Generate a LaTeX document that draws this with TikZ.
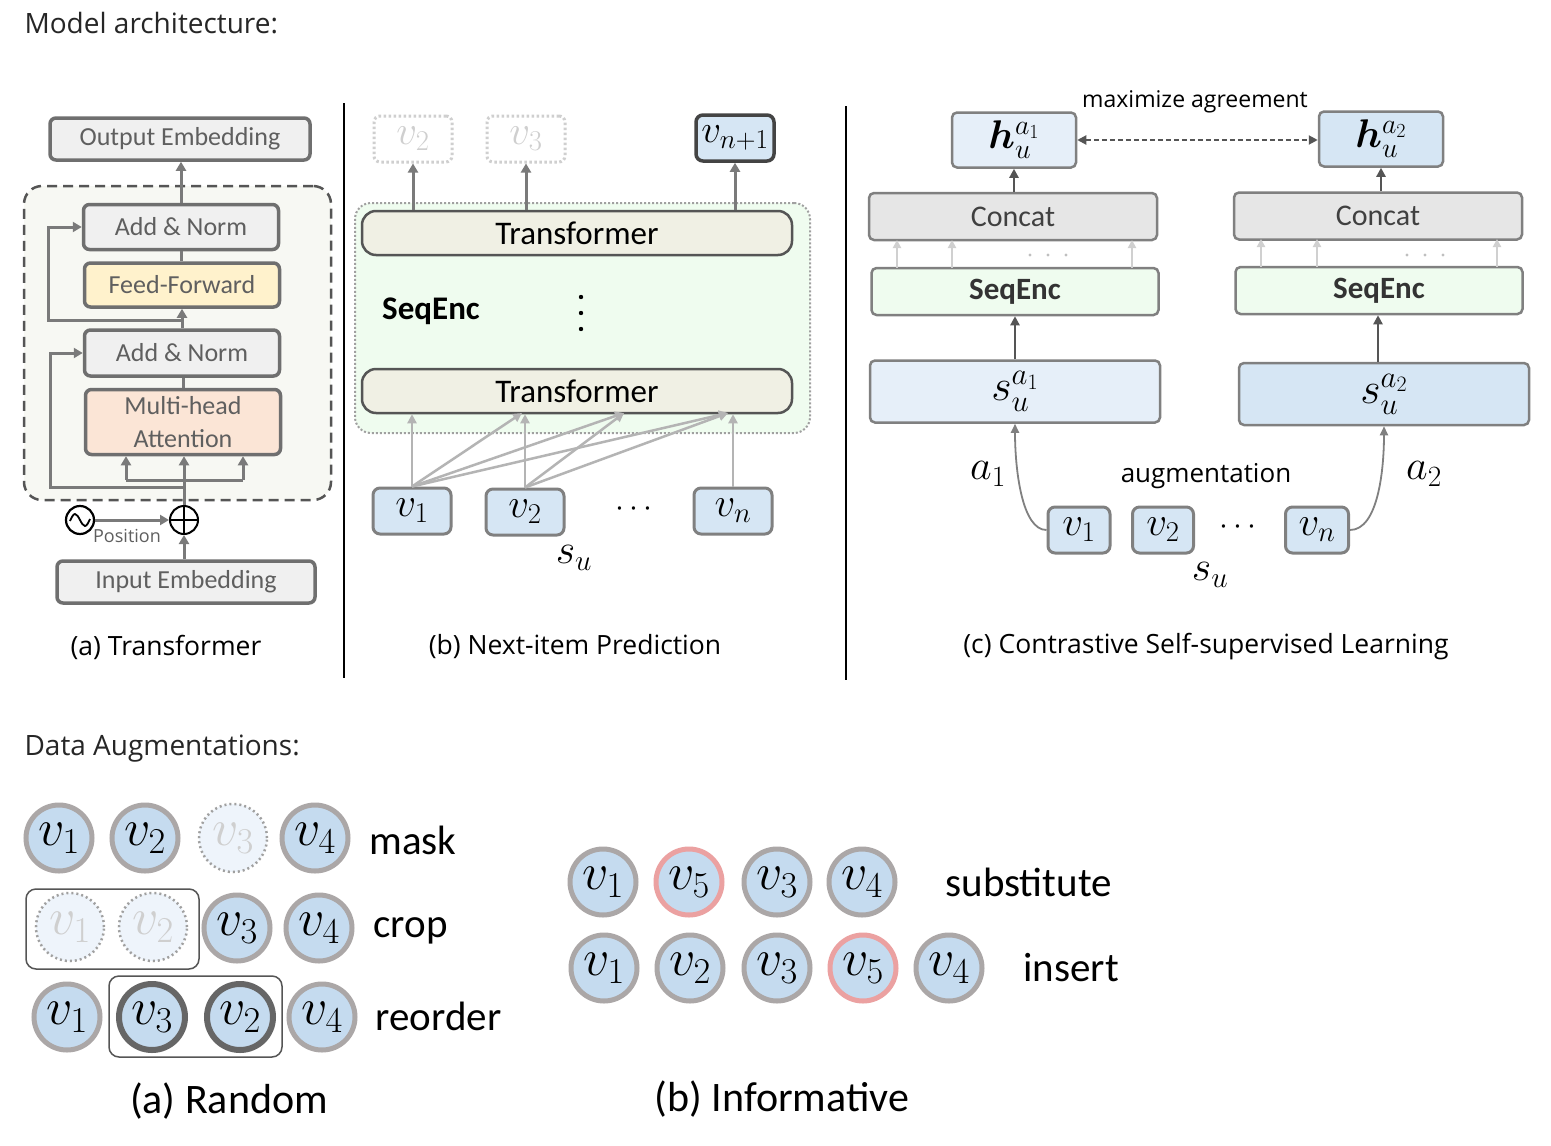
\RequirePackage{fix-cm}
\documentclass[tikz,border=0pt]{standalone}
\usepackage{bm}
\usepackage{fontspec}
\setmainfont{Carlito}
\newfontfamily\osans{Open Sans}
\usetikzlibrary{arrows.meta,calc}
\newcommand{\fsz}[1]{\fontsize{#1}{#1}\selectfont}
\definecolor{bordA}{HTML}{6F6F6F}
\definecolor{fillGray}{HTML}{F0F0F0}
\definecolor{txtA}{HTML}{5F5F5F}
\definecolor{ffFill}{HTML}{FFF2CC}
\definecolor{mhaFill}{HTML}{FBE5D6}
\definecolor{bgA}{HTML}{F7F8F3}
\definecolor{arrA}{HTML}{7A7A7A}
\definecolor{vFill}{HTML}{D6E6F4}
\definecolor{vBord}{HTML}{808080}
\definecolor{greenFill}{HTML}{EFFCEF}
\definecolor{trFill}{HTML}{F0F0E4}
\definecolor{lightArr}{HTML}{B4B4B4}
\definecolor{lighterArr}{HTML}{D0D0D0}
\definecolor{hFill}{HTML}{E6EFF9}
\definecolor{ccFill}{HTML}{E6E6E6}
\definecolor{cFill}{HTML}{C5DBEF}
\definecolor{cBord}{HTML}{ABA7A7}
\definecolor{redBord}{HTML}{EBA1A1}
\definecolor{darkBord}{HTML}{666666}
\definecolor{ghostFill}{HTML}{EEF4FB}
\definecolor{ghostBord}{HTML}{A0A0A0}
\definecolor{ghostTxt}{HTML}{CFCFCF}
\definecolor{darkArr}{HTML}{555555}
\tikzset{
  abox/.style={draw=bordA, line width=3.5pt, fill=fillGray, rounded corners=6pt, inner sep=0pt, text=txtA, font=\fsz{26}},
  bgdash/.style={draw=darkArr, line width=2.5pt, dash pattern=on 10pt off 6pt, fill=bgA, rounded corners=18pt, inner sep=0pt},
  arr/.style={draw=arrA, line width=3pt, -{Triangle[length=9pt,width=10pt]}},
  ln/.style={draw=arrA, line width=3pt},
  larr/.style={draw=lightArr, line width=2.5pt, -{Triangle[length=9pt,width=9pt]}},
  lrarr/.style={draw=lighterArr, line width=2.5pt, -{Triangle[length=8pt,width=8pt]}},
  darr/.style={draw=darkArr, line width=2.5pt, -{Triangle[length=9pt,width=9pt]}},
  seqbg/.style={draw=ghostBord, line width=2pt, dash pattern=on 2pt off 2pt, fill=greenFill, rounded corners=16pt, inner sep=0pt},
  trbox/.style={draw=darkArr, line width=2.5pt, fill=trFill, rounded corners=14pt, inner sep=0pt, font=\fsz{33}, minimum width=430pt, minimum height=44pt},
  vbox/.style={draw=vBord, line width=3pt, fill=vFill, rounded corners=7pt, inner sep=0pt, minimum width=78pt, minimum height=46pt, font=\fsz{41}},
  ghostbox/.style={draw=ghostTxt, line width=3pt, dash pattern=on 2.5pt off 2.5pt, rounded corners=6pt, inner sep=0pt, minimum width=78pt, minimum height=46pt, font=\fsz{41}, text=ghostTxt},
  cbox/.style={draw=vBord, line width=2.5pt, rounded corners=5pt, inner sep=0pt, font=\fsz{30}},
  circ/.style={circle, fill=cFill, draw=cBord, line width=5pt, minimum size=66pt, inner sep=0pt, font=\fsz{52}},
  ghostc/.style={circle, fill=ghostFill, draw=ghostBord, line width=2.5pt, dash pattern=on 2pt off 3pt, minimum size=68pt, inner sep=0pt, font=\fsz{52}, text=ghostTxt},
  darkc/.style={circ, draw=darkBord, line width=6pt},
  redc/.style={circ, draw=redBord},
  augl/.style={anchor=west, font=\fsz{41}},
  mlab/.style={font=\fsz{42}},
  capt/.style={font=\osans\fsz{26.5}},
  bigcapt/.style={font=\fsz{42}},
  head/.style={anchor=west, font=\osans\fsz{28}, text=black!85}
}
\begin{document}
\begin{tikzpicture}[x=1pt,y=-1pt]
\useasboundingbox (0,0) rectangle (1551,1146);
\fill[white] (0,0) rectangle (1551,1146);

% headers
\node[head] (hd1) at (21,23) {Model architecture:};
\node[head] (hd2) at (21,749) {Data Augmentations:};

% ---------- panel (a) ----------
\node[bgdash, minimum width=307pt, minimum height=314pt] (enc) at (177.5,343) {};
\node[abox, minimum width=260pt, minimum height=42pt] (outemb) at (180,139) {Output Embedding};
\node[abox, minimum width=195pt, minimum height=45pt] (an1) at (181,227) {Add \& Norm};
\node[abox, fill=ffFill, minimum width=195pt, minimum height=44pt] (ff) at (182,285) {Feed-Forward};
\node[abox, minimum width=195pt, minimum height=46pt] (an2) at (182,353) {Add \& Norm};
\node[abox, fill=mhaFill, minimum width=195pt, minimum height=65pt, align=center, font=\fontsize{26}{33}\selectfont] (mha) at (183,422) {Multi-head\\Attention};
\node[draw, circle, line width=2pt, minimum size=28pt, inner sep=0pt] (plus) at (184,520) {};
\draw[line width=2pt] (plus.north) -- (plus.south) (plus.west) -- (plus.east);
\node[draw, circle, line width=2.2pt, minimum size=28pt, inner sep=0pt] (pos) at (80,520) {};
\draw[line width=1.8pt] (70,521) sin (75,514) cos (80,520) sin (85,526) cos (90,519);
\node[font=\osans\fsz{18}, text=txtA] (postxt) at (127,536) {Position};
\node[abox, minimum width=258pt, minimum height=42pt] (inemb) at (186,582) {Input Embedding};

\draw[arr] (an1.north) -- (an1.north |- outemb.south);
\draw[ln] (an1.south) -- (an1.south |- ff.north);
\draw[arr] (an2.north) -- (an2.north |- ff.south);
\coordinate (r1) at (183,320);
\draw[arr] (r1) -- (48,320) |- (an1.west);
\coordinate (r2) at (183,487);
\draw[arr] (r2) -- (50,487) |- (an2.west);
\draw[ln] (mha.north) -- (mha.north |- an2.south);
\draw[arr] (plus.north) -- (plus.north |- mha.south);
\coordinate (sl) at (126,480);
\coordinate (sr) at (243,480);
\draw[ln] (sl) -- (sr);
\draw[arr] (sl) -- (sl |- mha.south);
\draw[arr] (sr) -- (sr |- mha.south);
\draw[arr] (pos.east) -- (plus.west);
\draw[arr] (plus.south |- inemb.north) -- (plus.south);
\node[capt] (capa) at (166,647) {(a) Transformer};

% separators
\coordinate (s1a) at (344,103); \coordinate (s1b) at (344,678);
\coordinate (s2a) at (846,106); \coordinate (s2b) at (846,680);
\draw[line width=2pt] (s1a) -- (s1b);
\draw[line width=2pt] (s2a) -- (s2b);

% ---------- panel (b) ----------
\node[seqbg, minimum width=455pt, minimum height=230pt] (seq) at (582.5,318) {};
\node[trbox] (tr1) at (577,233) {Transformer};
\node[trbox] (tr2) at (577,391) {Transformer};
\node[font=\bfseries\fsz{33}] (seqlbl) at (431,311) {SeqEnc};
\foreach \yy in {297,313,329} \fill (581,\yy) circle (2.2pt);
\node[ghostbox] (p2) at (413,139) {$v_2$};
\node[ghostbox] (p3) at (526,139) {$v_3$};
\node[vbox, draw=darkArr!80!black, line width=3.5pt, font=\fsz{39}] (vn1) at (735,138) {$v_{n+1}$};
\node[vbox] (b1) at (412,511) {$v_1$};
\node[vbox] (b2) at (525,512) {$v_2$};
\node[vbox] (bn) at (733,511) {$v_n$};
\node[font=\fsz{32}] (bdots) at (634,509) {$\cdots$};
\node[mlab] (bsu) at (574,558) {$s_u$};
\draw[arr] (p2.south |- tr1.north) -- (p2.south);
\draw[arr] (p3.south |- tr1.north) -- (p3.south);
\draw[arr] (vn1.south |- tr1.north) -- (vn1.south);
\coordinate (q2) at (522,413);
\coordinate (q3) at (624,413);
\coordinate (q4) at (728,413);
\draw[larr] (b1.north) -- (b1.north |- tr2.south);
\draw[larr] (b1.north) -- (q2);
\draw[larr] (b1.north) -- (q3);
\draw[larr] (b1.north) -- (q4);
\draw[larr] (b2.north) -- (b2.north |- tr2.south);
\draw[larr] (b2.north) -- (q3);
\draw[larr] (b2.north) -- (q4);
\draw[larr] (bn.north) -- (bn.north |- tr2.south);
\node[capt] (capb) at (575,647) {(b) Next-item Prediction};

% ---------- panel (c) ----------
\node[font=\osans\fsz{23}] (maxag) at (1195,102) {maximize agreement};
\node[cbox, fill=hFill, minimum width=124pt, minimum height=55pt, font=\fsz{40}] (h1) at (1014,140) {$\bm{h}_u^{a_1}$};
\node[cbox, fill=vFill, minimum width=124pt, minimum height=55pt, font=\fsz{40}] (h2) at (1381,139) {$\bm{h}_u^{a_2}$};
\draw[draw=darkArr, line width=2pt, dash pattern=on 5pt off 3pt, {Triangle[length=9pt,width=9pt]}-{Triangle[length=9pt,width=9pt]}] (h1.east) -- (h1.east -| h2.west);
\node[cbox, fill=ccFill, minimum width=288pt, minimum height=47pt, text=black!75] (cc1) at (1013,216.5) {Concat};
\node[cbox, fill=ccFill, minimum width=288pt, minimum height=47pt, text=black!75] (cc2) at (1378,216) {Concat};
\node[cbox, fill=greenFill, minimum width=287pt, minimum height=47pt, font=\bfseries\fsz{31}, text=black!80] (se1) at (1015,291.5) {SeqEnc};
\node[cbox, fill=greenFill, minimum width=287pt, minimum height=47pt, font=\bfseries\fsz{31}, text=black!80] (se2) at (1379,290.5) {SeqEnc};
\node[cbox, fill=hFill, minimum width=290pt, minimum height=62pt, font=\fsz{44}] (su1) at (1015,391.5) {$s_u^{a_1}$};
\node[cbox, fill=vFill, minimum width=290pt, minimum height=62pt, font=\fsz{44}] (su2) at (1384,394) {$s_u^{a_2}$};
\draw[darr] (cc1.north -| h1.south) -- (h1.south);
\draw[darr] (cc2.north -| h2.south) -- (h2.south);
\draw[darr] (su1.north) -- (su1.north |- se1.south);
\draw[darr] (su2.north -| cc2.north) -- (se2.south -| cc2.north);
\foreach \xx in {897,952,1132} \draw[lrarr] (\xx,268) -- (\xx,240);
\foreach \xx in {1261,1317,1497} \draw[lrarr] (\xx,267) -- (\xx,239);
\foreach \xx in {1030,1048,1066} \fill[black!25] (\xx,255) circle (1.6pt);
\foreach \xx in {1407,1425,1443} \fill[black!25] (\xx,255) circle (1.6pt);
\node[vbox, minimum width=62pt, minimum height=46pt] (cv1) at (1079,530) {$v_1$};
\node[vbox, minimum width=61pt, minimum height=46pt] (cv2) at (1163,530) {$v_2$};
\node[vbox, minimum width=63pt, minimum height=46pt] (cvn) at (1317,530) {$v_n$};
\node[font=\fsz{32}] (cdots) at (1238,527) {$\cdots$};
\node[mlab] (csu) at (1210,575) {$s_u$};
\draw[draw=vBord, line width=1.8pt, -{Triangle[length=9pt,width=8pt]}] (cv1.west) .. controls (1022,530) and (1015,470) .. (su1.south);
\draw[draw=vBord, line width=1.8pt, -{Triangle[length=9pt,width=8pt]}] (cvn.east) .. controls (1378,530) and (1384,470) .. (su2.south);
\node[mlab] (la1) at (988,474) {$a_1$};
\node[mlab] (la2) at (1424,474) {$a_2$};
\node[font=\osans\fsz{26}] (augtxt) at (1206,476) {augmentation};
\node[capt] (capc) at (1206,647) {(c) Contrastive Self-supervised Learning};

% ---------- Data augmentations ----------
\node[draw=darkArr, line width=1.5pt, rounded corners=10pt, minimum width=173pt, minimum height=80pt] (cropbox) at (112.5,929) {};
\node[draw=darkArr, line width=1.5pt, rounded corners=10pt, minimum width=173pt, minimum height=81pt] (reobox) at (195.5,1016.5) {};
% mask
\node[circ] (m1) at (59,838) {$v_1$};
\node[circ] (m2) at (145,838) {$v_2$};
\node[ghostc] (m3) at (233,838) {$v_3$};
\node[circ] (m4) at (315,838) {$v_4$};
\node[augl] (lmask) at (366,840) {mask};
% crop
\node[ghostc] (c1) at (70,927) {$v_1$};
\node[ghostc] (c2) at (153,927) {$v_2$};
\node[circ] (c3) at (237,928) {$v_3$};
\node[circ] (c4) at (319,928) {$v_4$};
\node[augl] (lcrop) at (370,931) {crop};
% reorder
\node[circ] (o1) at (67,1017) {$v_1$};
\node[darkc] (o2) at (152,1017) {$v_3$};
\node[darkc] (o3) at (240,1017) {$v_2$};
\node[circ] (o4) at (322,1017) {$v_4$};
\node[augl] (lreo) at (372,1016) {reorder};
\node[bigcapt] (capr) at (229,1101) {(a) Random};
% substitute
\node[circ] (s1) at (603,882) {$v_1$};
\node[redc] (s2) at (689,882) {$v_5$};
\node[circ] (s3) at (777,882) {$v_3$};
\node[circ] (s4) at (862,882) {$v_4$};
\node[augl] (lsub) at (942,882) {substitute};
% insert
\node[circ] (i1) at (604,968) {$v_1$};
\node[circ] (i2) at (690,968) {$v_2$};
\node[circ] (i3) at (777,968) {$v_3$};
\node[redc] (i4) at (863,968) {$v_5$};
\node[circ] (i5) at (949,968) {$v_4$};
\node[augl] (lins) at (1020,968) {insert};
\node[bigcapt] (capi) at (782,1099) {(b) Informative};
\end{tikzpicture}
\end{document}
